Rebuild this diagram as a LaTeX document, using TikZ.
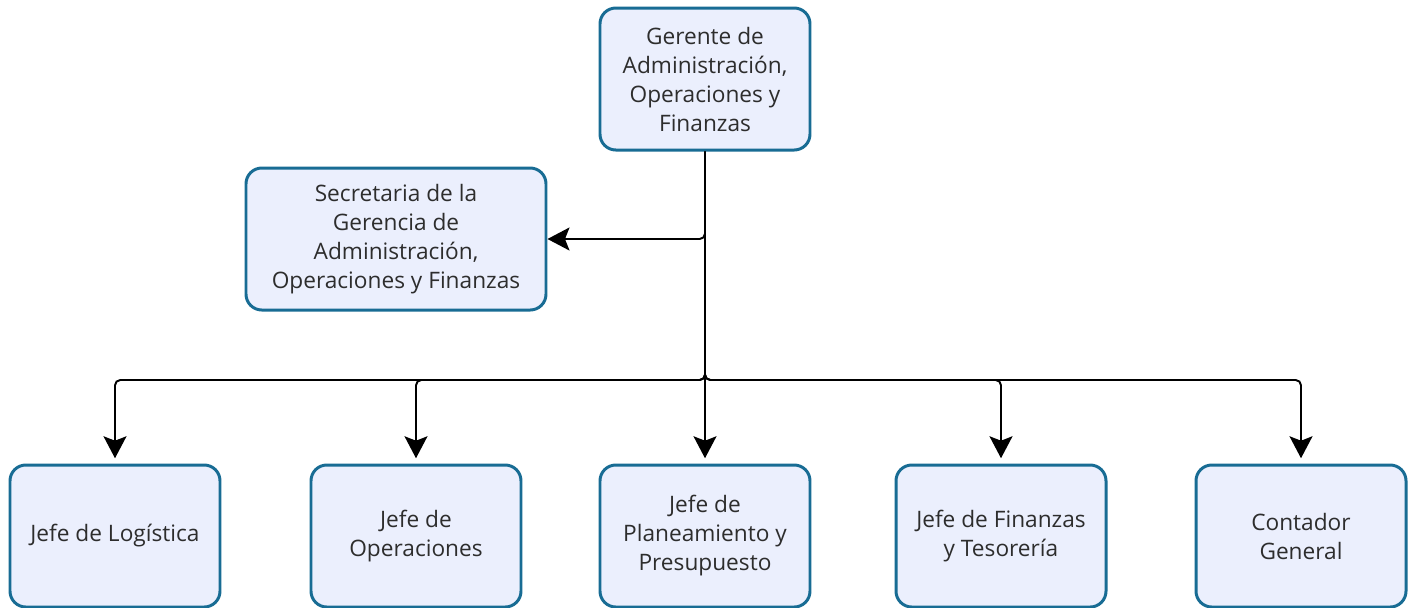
\documentclass[tikz,border=0pt]{standalone}
\usepackage{fontspec}
\setmainfont{Open Sans}
\usetikzlibrary{arrows.meta,positioning,calc}
\definecolor{OrgBorder}{RGB}{24,108,148}
\definecolor{OrgFill}{RGB}{235,239,253}
\definecolor{OrgText}{RGB}{45,45,45}

\begin{document}
\begin{tikzpicture}[
  unit/.style={draw=OrgBorder, line width=1.7pt, rounded corners=9pt, fill=OrgFill,
    text=OrgText, align=center, inner sep=3pt, minimum width=4.2cm, minimum height=2.84cm,
    font=\fontsize{12.9}{16.5}\selectfont},
  arrow/.style={-{Stealth[length=4.4mm, width=4.6mm, inset=0.9mm]}, line width=1.1pt,
    draw=black, rounded corners=3pt}
]
\useasboundingbox (0,0) rectangle (28.36,-12.14);

% --- Top: Gerencia ---
\node[unit] (gerente) at (14.1,-1.58) {Gerente de\\Administración,\\Operaciones y\\Finanzas};

% --- Middle: Secretaria ---
\node[unit, minimum width=6cm] (secretaria) at (7.92,-4.78)
  {Secretaria de la\\Gerencia de\\Administración,\\Operaciones y Finanzas};

% --- Bottom row: Jefaturas ---
\node[unit] (plan) at (14.1,-10.72) {Jefe de\\Planeamiento y\\Presupuesto};
\node[unit] (logistica) at (2.3,-10.72) {Jefe de Logística};
\node[unit] (operaciones) at (8.32,-10.72) {Jefe de\\Operaciones};
\node[unit] (finanzas) at (20.02,-10.72) {Jefe de Finanzas\\y Tesorería};
\node[unit] (contador) at (26.02,-10.72) {Contador\\General};

% Branching point of the horizontal bus
\coordinate (split) at ($(gerente.south |- 0,-7.6)$);

% --- Arrows ---
\draw[arrow] (gerente.south) |- (secretaria.east);
\draw[arrow] (gerente.south) -- (split) -| ([yshift=3pt]logistica.north);
\draw[arrow] (gerente.south) -- (split) -| ([yshift=3pt]operaciones.north);
\draw[arrow] (gerente.south) -- ([yshift=3pt]plan.north);
\draw[arrow] (gerente.south) -- (split) -| ([yshift=3pt]finanzas.north);
\draw[arrow] (gerente.south) -- (split) -| ([yshift=3pt]contador.north);

\end{tikzpicture}
\end{document}
